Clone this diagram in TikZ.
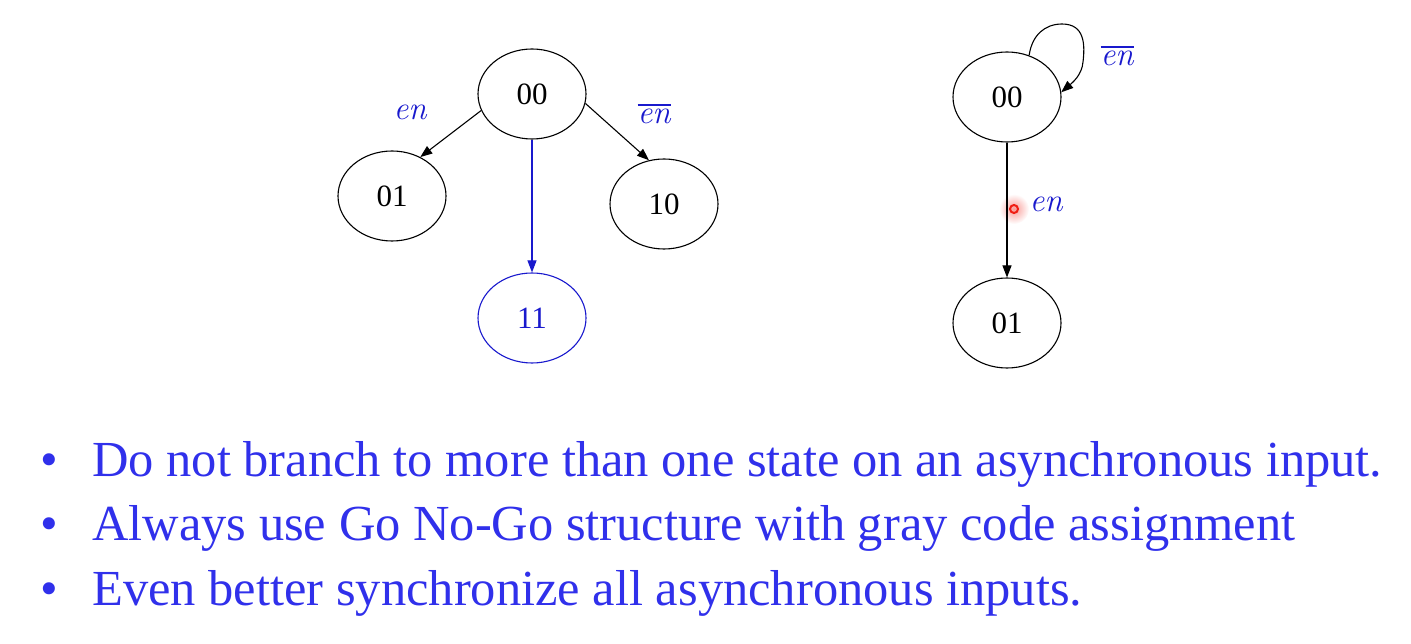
\documentclass[tikz,border=0pt]{standalone}
\usepackage{fontspec}
\setmainfont{Liberation Serif}
\newfontfamily\labelfont{Latin Modern Roman}
\usetikzlibrary{shapes.geometric,arrows.meta}
\definecolor{bullettext}{RGB}{48,48,235}
\definecolor{labelblue}{RGB}{25,25,205}
\definecolor{pointer}{RGB}{240,30,20}
% negated signal name: text with a bar over it
\newcommand\barred[1]{\leavevmode\vbox{\hrule height 1.6pt\kern 3pt\hbox{#1}}}
\begin{document}
\begin{tikzpicture}[x=1pt,y=-1pt,
  state/.style={draw, ellipse, line width=1.1pt, minimum width=108pt, minimum height=90pt,
    inner sep=0pt, font=\fontsize{31}{32}\selectfont},
  trans/.style={line width=1.1pt, -{Triangle[length=12pt,width=9pt]}},
  lbl/.style={text=labelblue, inner sep=0pt, font=\labelfont\itshape\fontsize{33}{35}\selectfont},
  bullet/.style={anchor=base west, inner sep=0pt, text=bullettext, font=\fontsize{50.5}{54}\selectfont}]
\useasboundingbox (0,0) rectangle (1411,644);

% pointer glow, beneath the connectors
\shade[inner color=pointer!45, outer color=white] (1014,209) circle (15);

% left: branching state graph
\node[state] (a) at (532,94) {00};
\node[state] (b) at (392,196) {01};
\node[state] (c) at (664,204) {10};
\node[state, draw=labelblue, text=labelblue] (d) at (532,318) {11};

\draw[trans] (a.198) -- (b.54);
\draw[trans] (a.-10) -- (c.109);
\draw[trans, draw=labelblue, fill=labelblue] (a.south) -- (d.north);

\node[lbl] (la) at (410,112) {en};
\node[lbl] (lb) at (654,114) {\barred{en}};

% right: go / no-go structure
\node[state] (r0) at (1007,97) {00};
\node[state] (r1) at (1007,323) {01};

\draw[trans] (r0.south) -- (r1.north);
\draw[trans] (r0.62) .. controls (1032,35) and (1045,24) .. (1062,24)
  .. controls (1085,24) and (1085,45) .. (1083,62)
  .. controls (1082,75) and (1072,83) .. (r0.5);

\node[lbl] (lc) at (1046,204) {en};
\node[lbl] (ld) at (1117,56) {\barred{en}};

% pointer ring
\draw[pointer, line width=2pt] (1014,209) circle (4);

% bullet list
\node[bullet] (t1) at (92,476) {Do not branch to more than one state on an asynchronous input.};
\node[bullet] (t2) at (92,540) {Always use Go No-Go structure with gray code assignment};
\node[bullet] (t3) at (92,605) {Even better synchronize all asynchronous inputs.};
\node[bullet] (b1) at (40,476) {•};
\node[bullet] (b2) at (40,540) {•};
\node[bullet] (b3) at (40,605) {•};
\end{tikzpicture}
\end{document}
